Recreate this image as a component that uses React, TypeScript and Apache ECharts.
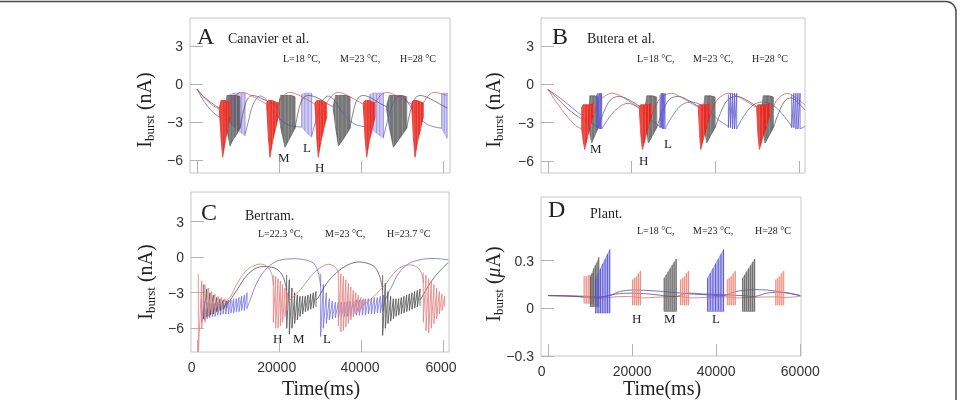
import React, { useEffect, useRef } from "react";
import * as echarts from "echarts";

type Pt = [number, number];
// one spike sample: time (ms), spike top, trough
type Sp = [number, number, number];

// ---------- A: Canavier et al. (nA) ----------
const aRedSlow: Pt[][] = [
  [[0, -0.4], [1500, -1.0], [3500, -1.6], [5450, -2.0]],
  [[8050, -1.5], [9500, -0.85], [10900, -0.65], [13500, -0.95], [16990, -1.6]],
  [[19840, -1.5], [21300, -0.85], [22700, -0.65], [25300, -0.95], [28780, -1.6]],
  [[31630, -1.5], [33100, -0.85], [34500, -0.65], [37000, -0.95], [40570, -1.6]],
  [[43410, -1.5], [44900, -0.85], [46300, -0.65], [48800, -0.95], [52360, -1.6]],
  [[55200, -1.5], [56600, -0.85], [58000, -0.65], [61000, -0.9]],
];
const aRedBursts: Sp[][] = [
  [[5450, -1.9, -2.1], [5850, -1.3, -4.2], [6260, -1.3, -5.8], [6860, -1.3, -4.6], [7460, -1.4, -3.6], [8050, -1.5, -2.6]],
  [[16990, -1.5, -1.7], [17400, -1.3, -4.2], [17800, -1.3, -5.8], [18400, -1.3, -4.6], [19100, -1.4, -3.6], [19840, -1.5, -2.6]],
  [[28780, -1.5, -1.7], [29190, -1.3, -4.2], [29590, -1.3, -5.8], [30190, -1.3, -4.6], [30900, -1.4, -3.6], [31630, -1.5, -2.6]],
  [[40570, -1.5, -1.7], [40980, -1.3, -4.2], [41380, -1.3, -5.8], [41980, -1.3, -4.6], [42700, -1.4, -3.6], [43410, -1.5, -2.6]],
  [[52360, -1.5, -1.7], [52770, -1.3, -4.2], [53170, -1.3, -5.8], [53770, -1.3, -4.6], [54500, -1.4, -3.6], [55200, -1.5, -2.6]],
];
const aBlackSlow: Pt[][] = [
  [[0, -0.4], [2000, -1.1], [4500, -1.7], [6830, -2.2]],
  [[10490, -3.5], [11300, -2.2], [12300, -1.2], [13500, -0.9], [15500, -1.1], [18000, -1.5], [19840, -1.8]],
  [[23900, -3.5], [24700, -2.2], [25700, -1.2], [27000, -0.9], [29500, -1.1], [31500, -1.5], [33250, -1.8]],
  [[37320, -3.5], [38100, -2.2], [39100, -1.2], [40400, -0.9], [42500, -1.1], [44500, -1.5], [46260, -1.8]],
  [[51140, -3.5], [52000, -2.2], [53000, -1.2], [54300, -0.9], [56500, -1.1], [58800, -1.5], [61000, -1.9]],
];
const aBlackBursts: Sp[][] = [
  [[6830, -2.1, -2.4], [7300, -0.9, -3.6], [8050, -0.9, -4.9], [8800, -0.9, -4.4], [9650, -0.9, -4.0], [10490, -1.0, -3.5]],
  [[19840, -1.7, -2.0], [20400, -0.9, -3.4], [21460, -0.9, -5.0], [22300, -0.9, -4.5], [23100, -0.9, -4.0], [23900, -1.0, -3.5]],
  [[33250, -1.7, -2.0], [33800, -0.9, -3.4], [34470, -0.9, -4.9], [35400, -0.9, -4.5], [36400, -0.9, -4.0], [37320, -1.0, -3.5]],
  [[46260, -1.7, -2.0], [46900, -0.9, -3.4], [47890, -0.9, -5.0], [49000, -0.9, -4.5], [50100, -0.9, -4.0], [51140, -1.0, -3.5]],
];
const aBlueSlow: Pt[][] = [
  [[0, -0.4], [2000, -1.5], [4500, -2.4], [8050, -3.0]],
  [[11710, -4.0], [12500, -3.0], [13700, -1.6], [15200, -0.95], [16800, -1.2], [19000, -2.3], [22000, -3.2], [25530, -3.4]],
  [[27970, -4.1], [28900, -3.0], [30200, -1.6], [31700, -0.95], [33300, -1.2], [35600, -2.3], [38600, -3.2], [42190, -3.4]],
  [[45450, -4.2], [46400, -3.0], [47700, -1.6], [49200, -0.95], [50800, -1.2], [53200, -2.3], [56200, -3.2], [59670, -3.5]],
];
const aBlueBursts: Sp[][] = [
  [[8050, -0.8, -3.1], [9000, -0.7, -3.4], [10000, -0.7, -3.7], [10900, -0.7, -3.9], [11710, -0.7, -4.1]],
  [[25530, -0.8, -3.4], [26300, -0.7, -3.7], [27100, -0.7, -4.0], [27970, -0.7, -4.2]],
  [[42190, -0.8, -3.4], [43000, -0.7, -3.7], [43800, -0.7, -3.9], [44600, -0.7, -4.1], [45450, -0.7, -4.3]],
  [[59670, -0.8, -3.5], [60300, -0.7, -3.9], [61000, -0.7, -4.3]],
];

// ---------- B: Butera et al. (nA) ----------
const bRedSlow: Pt[][] = [
  [[0, -0.4], [2000, -1.4], [4500, -2.5], [6500, -3.2], [8050, -3.5]],
  [[10840, -2.4], [12600, -1.2], [15200, -0.7], [17800, -1.0], [20200, -1.5], [21840, -1.8]],
  [[24790, -2.4], [26600, -1.2], [29200, -0.7], [31800, -1.0], [34300, -1.5], [35950, -1.8]],
  [[38730, -2.4], [40500, -1.2], [43100, -0.7], [45700, -1.0], [48200, -1.5], [49890, -1.8]],
  [[53080, -2.4], [54800, -1.2], [57100, -0.7], [59000, -1.0], [61400, -1.6]],
];
const bRedBursts: Sp[][] = [
  [[8050, -1.8, -3.5], [8400, -1.6, -4.4], [8770, -1.6, -5.1], [9400, -1.6, -4.2], [10100, -1.6, -3.3], [10840, -1.5, -2.4]],
  [[21840, -1.7, -2.0], [22200, -1.6, -4.0], [22560, -1.6, -5.1], [23300, -1.6, -4.2], [24000, -1.6, -3.3], [24790, -1.5, -2.4]],
  [[35950, -1.7, -2.0], [36250, -1.6, -4.0], [36500, -1.6, -5.1], [37200, -1.6, -4.2], [38000, -1.6, -3.3], [38730, -1.5, -2.4]],
  [[49890, -1.7, -2.0], [50200, -1.6, -4.0], [50530, -1.6, -5.1], [51300, -1.6, -4.2], [52200, -1.6, -3.3], [53080, -1.5, -2.4]],
];
const bBlackSlow: Pt[][] = [
  [[0, -0.4], [2500, -1.2], [5000, -2.0], [7500, -2.6], [9640, -3.0]],
  [[12030, -3.4], [13300, -2.2], [15000, -1.2], [17200, -0.95], [19800, -1.3], [23190, -2.0]],
  [[25980, -3.4], [27300, -2.2], [29000, -1.2], [31200, -0.95], [33800, -1.3], [37140, -2.0]],
  [[39930, -3.4], [41300, -2.2], [43000, -1.2], [45200, -0.95], [47800, -1.3], [51090, -2.0]],
  [[53880, -3.4], [55200, -2.2], [56900, -1.2], [58500, -1.1], [61400, -2.0]],
];
const bBlackBursts: Sp[][] = [
  [[9640, -2.9, -3.1], [10000, -0.9, -3.8], [10440, -0.9, -4.6], [11200, -0.9, -4.0], [12030, -1.0, -3.4]],
  [[23190, -1.9, -2.2], [23600, -0.9, -3.7], [24000, -0.9, -4.6], [25000, -0.9, -4.0], [25980, -1.0, -3.4]],
  [[37140, -1.9, -2.2], [37500, -0.9, -3.7], [37940, -0.9, -4.6], [38900, -0.9, -4.0], [39930, -1.0, -3.4]],
  [[51090, -1.9, -2.2], [51450, -0.9, -3.7], [51890, -0.9, -4.6], [52900, -0.9, -4.0], [53880, -1.0, -3.4]],
];
const bBlueSlow: Pt[][] = [
  [[0, -0.4], [3000, -1.1], [6000, -1.9], [9000, -2.7], [11640, -3.3]],
  [[12830, -3.5], [14200, -2.8], [16200, -2.0], [18800, -1.5], [21500, -1.8], [24300, -2.7], [26780, -3.3]],
  [[27970, -3.5], [29500, -2.6], [32000, -1.6], [34800, -1.4], [37800, -1.9], [40800, -2.8], [43120, -3.3]],
  [[45110, -3.5], [46600, -2.6], [49100, -1.6], [51800, -1.4], [54800, -1.9], [58260, -3.3]],
  [[60250, -3.5], [61400, -3.3]],
];
const bBlueBursts: Sp[][] = [
  [[11640, -0.8, -3.4], [11940, -0.7, -3.4], [12240, -0.7, -3.5], [12530, -0.7, -3.5], [12830, -0.7, -3.5]],
  [[26780, -0.8, -3.4], [27080, -0.7, -3.4], [27380, -0.7, -3.5], [27670, -0.7, -3.5], [27970, -0.7, -3.5]],
  [[43120, -0.8, -3.4], [43620, -0.7, -3.4], [44120, -0.7, -3.5], [44610, -0.7, -3.5], [45110, -0.7, -3.5]],
  [[58260, -0.8, -3.4], [58760, -0.7, -3.4], [59260, -0.7, -3.5], [59750, -0.7, -3.5], [60250, -0.7, -3.5]],
];

// ---------- C: Bertram (nA) ----------
const cRedSlow: Pt[][] = [
  [[6830, -3.7], [8050, -3.4], [9670, -2.3], [12110, -1.1], [14960, -0.6], [16990, -0.75], [18210, -1.4], [18620, -2.4]],
  [[22030, -3.8], [22680, -3.6], [25120, -2.8], [27560, -1.7], [30000, -0.9], [32000, -0.6], [33600, -0.8], [34470, -1.3]],
  [[40570, -4.0], [42190, -3.6], [45450, -2.5], [48700, -1.1], [51140, -0.67], [53580, -0.8], [54800, -1.4], [55200, -2.2]],
];
const cRedBursts: Sp[][] = [
  [[325, -1.4, -8.0], [1140, -2.0, -6.0], [1950, -2.3, -5.5], [2760, -2.6, -5.0], [3580, -2.9, -4.8], [4390, -3.1, -4.6], [5200, -3.3, -4.4], [6020, -3.4, -4.2], [6830, -3.5, -4.0]],
  [[18620, -1.5, -5.5], [19190, -1.6, -6.0], [19760, -1.8, -6.0], [20330, -2.0, -5.8], [20890, -2.3, -5.5], [21460, -2.6, -5.0], [22030, -3.0, -4.5]],
  [[34470, -1.2, -5.8], [35080, -1.4, -6.3], [35690, -1.6, -6.2], [36300, -1.9, -5.9], [36910, -2.2, -5.6], [37520, -2.5, -5.3], [38130, -2.8, -5.0], [38740, -3.0, -4.8], [39350, -3.2, -4.6], [39960, -3.4, -4.4], [40570, -3.5, -4.2]],
  [[55200, -1.3, -5.5], [55850, -1.5, -6.2], [56500, -1.8, -6.4], [57150, -2.0, -6.0], [57800, -2.3, -5.6], [58450, -2.6, -5.2], [59100, -2.9, -4.8], [59760, -3.1, -4.5], [60410, -3.3, -4.2]],
];
const cBlackSlow: Pt[][] = [
  [[7240, -4.0], [8050, -3.65], [9670, -2.8], [12110, -1.55], [14550, -0.9], [16990, -0.8], [19430, -1.0], [21060, -1.7], [21870, -2.8]],
  [[29020, -3.6], [29590, -3.4], [31630, -2.2], [34060, -1.3], [36500, -0.7], [38940, -0.42], [41380, -0.5], [43410, -0.85], [44630, -1.7], [45280, -2.8]],
  [[54390, -3.6], [54800, -3.4], [56830, -2.2], [58860, -1.3], [61300, -0.45]],
];
const cBlackBursts: Sp[][] = [
  [[1540, -2.3, -5.2], [2360, -2.7, -5.0], [3170, -3.0, -4.9], [3980, -3.2, -4.8], [4800, -3.4, -4.6], [5610, -3.5, -4.5], [6420, -3.6, -4.4], [7240, -3.7, -4.3]],
  [[21870, -1.5, -6.0], [22520, -1.9, -6.5], [23170, -2.6, -6.0], [23820, -3.0, -5.6], [24470, -3.2, -5.3], [25120, -3.3, -5.0], [25770, -3.3, -4.8], [26420, -3.3, -4.6], [27070, -3.2, -4.5], [27720, -3.1, -4.4], [28370, -3.0, -4.3], [29020, -2.9, -4.2]],
  [[45280, -1.5, -6.6], [45930, -2.2, -6.0], [46580, -2.9, -5.6], [47240, -3.3, -5.4], [47890, -3.5, -5.2], [48540, -3.5, -5.0], [49190, -3.5, -4.9], [49840, -3.4, -4.8], [50490, -3.3, -4.7], [51140, -3.2, -4.6], [51790, -3.1, -4.5], [52440, -3.0, -4.4], [53090, -2.9, -4.3], [53740, -2.8, -4.2], [54390, -2.7, -4.1]],
];
const cBlueSlow: Pt[][] = [
  [[12200, -4.3], [12930, -3.65], [14550, -2.2], [16580, -1.1], [19430, -0.34], [22680, -0.14], [25930, -0.2], [28370, -0.5], [29590, -1.3], [30160, -2.5]],
  [[45450, -4.5], [45850, -3.65], [47480, -2.5], [49110, -1.4], [51540, -0.56], [54390, -0.22], [57640, -0.11], [61300, -0.22]],
];
const cBlueBursts: Sp[][] = [
  [[1140, -3.5, -5.5], [1790, -3.7, -5.3], [2440, -3.8, -5.2], [3090, -3.9, -5.1], [3740, -3.9, -5.0], [4390, -3.9, -5.0], [5040, -3.8, -4.9], [5690, -3.8, -4.9], [6340, -3.7, -4.8], [6990, -3.7, -4.8], [7640, -3.6, -4.8], [8290, -3.6, -4.7], [8940, -3.5, -4.7], [9590, -3.5, -4.6], [10240, -3.4, -4.6], [10890, -3.3, -4.5], [11540, -3.2, -4.5], [12200, -3.0, -4.4]],
  [[30160, -1.4, -6.7], [30810, -2.3, -6.0], [31540, -3.0, -5.6], [32280, -3.5, -5.3], [33010, -3.7, -5.2], [33740, -3.8, -5.1], [34470, -3.8, -5.1], [35200, -3.8, -5.0], [35930, -3.8, -5.0], [36670, -3.7, -5.0], [37400, -3.7, -5.0], [38130, -3.7, -5.0], [38860, -3.6, -4.9], [39590, -3.6, -4.9], [40330, -3.6, -4.9], [41060, -3.5, -4.9], [41790, -3.5, -4.8], [42520, -3.5, -4.8], [43250, -3.4, -4.8], [43980, -3.4, -4.7], [44710, -3.3, -4.7], [45450, -3.2, -4.6]],
];

// ---------- D: Plant (uA) ----------
const dRedSlow: Pt[][] = [
  [[0, 0.08], [5000, 0.078], [8420, 0.07], [11200, 0.06], [15000, 0.07], [19930, 0.075], [22310, 0.065], [26000, 0.07], [31440, 0.075], [33820, 0.065], [38000, 0.07], [42560, 0.072], [44940, 0.065], [50000, 0.07], [54070, 0.072], [56450, 0.068], [60000, 0.075]],
];
const dRedBursts: Sp[][] = [
  [[8580, 0.2, 0.03], [9130, 0.2, 0.03], [9690, 0.21, 0.03], [10240, 0.21, 0.03], [10800, 0.22, 0.03]],
  [[20090, 0.18, 0.02], [20560, 0.19, 0.02], [21040, 0.2, 0.02], [21520, 0.22, 0.02], [21990, 0.235, 0.02]],
  [[31520, 0.18, 0.02], [32000, 0.19, 0.02], [32470, 0.2, 0.02], [32950, 0.22, 0.02], [33430, 0.235, 0.02]],
  [[42640, 0.18, 0.02], [43110, 0.19, 0.02], [43590, 0.2, 0.02], [44070, 0.22, 0.02], [44540, 0.235, 0.02]],
  [[54150, 0.18, 0.02], [54630, 0.19, 0.02], [55110, 0.2, 0.02], [55590, 0.22, 0.02], [56060, 0.235, 0.02]],
];
const dBlackSlow: Pt[][] = [
  [[0, 0.08], [5000, 0.078], [10000, 0.075], [12390, 0.07], [16000, 0.09], [20000, 0.095], [24000, 0.09], [27470, 0.08], [30650, 0.075], [33000, 0.095], [37000, 0.09], [42000, 0.085], [46130, 0.08], [49310, 0.075], [52000, 0.095], [56000, 0.1], [60000, 0.08]],
];
const dBlackBursts: Sp[][] = [
  [[10080, 0.2, 0.01], [10480, 0.22, 0.01], [10880, 0.25, 0.01], [11270, 0.27, 0.01], [11670, 0.29, 0.01], [12070, 0.32, 0.01]],
  [[27630, 0.19, -0.02], [28110, 0.21, -0.02], [28580, 0.23, -0.02], [29060, 0.25, -0.02], [29540, 0.27, -0.02], [30010, 0.29, -0.02], [30490, 0.31, -0.02]],
  [[46290, 0.19, -0.02], [46770, 0.21, -0.02], [47240, 0.23, -0.02], [47720, 0.25, -0.02], [48200, 0.27, -0.02], [48670, 0.29, -0.02], [49150, 0.31, -0.02]],
];
const dBlueSlow: Pt[][] = [
  [[0, 0.08], [6000, 0.075], [11200, 0.07], [14770, 0.08], [17000, 0.105], [20500, 0.115], [25000, 0.11], [30000, 0.1], [34000, 0.09], [37790, 0.085], [41760, 0.08], [44000, 0.1], [47000, 0.115], [52000, 0.115], [56000, 0.1], [60000, 0.08]],
];
const dBlueBursts: Sp[][] = [
  [[11350, 0.19, -0.03], [11910, 0.22, -0.03], [12470, 0.25, -0.03], [13020, 0.28, -0.03], [13580, 0.31, -0.03], [14130, 0.34, -0.03], [14690, 0.37, -0.03]],
  [[37950, 0.19, -0.02], [38590, 0.22, -0.02], [39220, 0.25, -0.02], [39860, 0.28, -0.02], [40490, 0.31, -0.02], [41130, 0.34, -0.02], [41760, 0.37, -0.02]],
];

// tick values and labels
const timeTicks = [0, 20000, 40000, 60000];
const nATicks = [-6, -3, 0, 3];
const uATicks = [-0.3, 0, 0.3];
const cTimeLabels = ["0", "20000", "40000", "6000"];
const dTimeLabels = ["0", "20000", "40000", "60000"];

const SERIF = '"Liberation Serif", "Times New Roman", serif';
const SANS = '"Liberation Sans", Arial, sans-serif';

interface Look {
  line: string;
  lineOpacity: number;
  fill?: string;
  fillOpacity?: number;
  stripe?: string;
  stripeOpacity?: number;
  zig?: string;
  zigOpacity?: number;
}

function slowSeries(ax: number, segs: Pt[][], look: Look, z: number) {
  return {
    type: "custom",
    xAxisIndex: ax,
    yAxisIndex: ax,
    silent: true,
    z,
    data: segs.map((s, i) => [s[0][0], s[0][1], i]),
    renderItem: (_p: any, api: any) => {
      const seg = segs[api.value(2)];
      return {
        type: "polyline",
        shape: { points: seg.map((p) => api.coord(p)), smooth: 0.35 },
        style: { stroke: look.line, lineWidth: 0.9, fill: "none", opacity: look.lineOpacity },
      };
    },
  };
}

function burstSeries(ax: number, bursts: Sp[][], look: Look, z: number) {
  return {
    type: "custom",
    xAxisIndex: ax,
    yAxisIndex: ax,
    silent: true,
    z,
    data: bursts.map((b, i) => [b[0][0], b[0][1], i]),
    renderItem: (_p: any, api: any) => {
      const b = bursts[api.value(2)];
      const tops = b.map((s) => api.coord([s[0], s[1]]));
      const bots = b.map((s) => api.coord([s[0], s[2]]));
      const children: any[] = [];
      if (look.fill) {
        children.push({
          type: "polygon",
          shape: { points: [...tops, ...bots.slice().reverse()] },
          style: { fill: look.fill, opacity: look.fillOpacity ?? 1, stroke: look.fill, lineWidth: 0.8 },
        });
      }
      if (look.stripe) {
        tops.forEach((tp, i) => {
          children.push({
            type: "line",
            shape: { x1: tp[0], y1: tp[1], x2: bots[i][0], y2: bots[i][1] },
            style: { stroke: look.stripe, lineWidth: 1, opacity: look.stripeOpacity ?? 1 },
          });
        });
      }
      if (look.zig) {
        const pts: number[][] = [];
        tops.forEach((tp, i) => {
          pts.push(tp);
          pts.push(bots[i]);
        });
        children.push({
          type: "polyline",
          shape: { points: pts },
          style: { stroke: look.zig, lineWidth: 1, fill: "none", opacity: look.zigOpacity ?? 1 },
        });
      }
      return { type: "group", children };
    },
  };
}

const minus = (s: string) => s.replace("-", "\u2212");

function xAxisFor(grid: number, min: number, max: number, labels?: string[], labelAt?: number[]) {
  return {
    type: "value",
    gridIndex: grid,
    min,
    max,
    axisLine: { show: false, onZero: false },
    splitLine: { show: false },
    axisTick: {
      show: true,
      inside: true,
      length: 12,
      customValues: timeTicks,
      lineStyle: { color: "#b4b4b4", width: 1 },
    },
    axisLabel: labels
      ? {
          show: true,
          customValues: labelAt,
          margin: 8,
          fontFamily: SANS,
          fontSize: 14,
          color: "#333",
          formatter: (v: number) => {
            let k = 0;
            (labelAt as number[]).forEach((p, i) => {
              if (Math.abs(p - v) < Math.abs((labelAt as number[])[k] - v)) k = i;
            });
            return labels[k];
          },
        }
      : { show: false },
  };
}

function yAxisFor(grid: number, min: number, max: number, ticks: number[]) {
  return {
    type: "value",
    gridIndex: grid,
    min,
    max,
    axisLine: { show: false, onZero: false },
    splitLine: { show: false },
    axisTick: {
      show: true,
      inside: true,
      length: 13,
      customValues: ticks,
      lineStyle: { color: "#b4b4b4", width: 1 },
    },
    axisLabel: {
      show: true,
      customValues: ticks,
      margin: 7,
      fontFamily: SANS,
      fontSize: 14,
      color: "#333",
      formatter: (v: number) => (Math.abs(v) < 1e-9 ? "0" : minus(String(Math.round(v * 10) / 10))),
    },
  };
}

const red: Look = { line: "#d33b36", lineOpacity: 0.7, fill: "#e8221b", fillOpacity: 0.92, stripe: "#f47a70", stripeOpacity: 0.55 };
const black: Look = { line: "#3a3a3a", lineOpacity: 0.7, fill: "#3c3c3c", fillOpacity: 0.7, stripe: "#a8a8a8", stripeOpacity: 0.55 };
const blue: Look = { line: "#4f4fc0", lineOpacity: 0.75, fill: "#8a80e4", fillOpacity: 0.42, stripe: "#6a5fd6", stripeOpacity: 0.45 };
const blueSpiky: Look = { line: "#4f4fc0", lineOpacity: 0.75, zig: "#5a55d0", zigOpacity: 0.8 };

const cRed: Look = { line: "#d8706e", lineOpacity: 0.85, zig: "#e58686", zigOpacity: 0.85 };
const cBlack: Look = { line: "#4a4a4a", lineOpacity: 0.85, zig: "#4d4d4d", zigOpacity: 0.8 };
const cBlue: Look = { line: "#6464d8", lineOpacity: 0.85, zig: "#6d6ae0", zigOpacity: 0.75 };

const dRed: Look = { line: "#e06a60", lineOpacity: 0.85, fill: "#f4a090", fillOpacity: 0.45, stripe: "#ec7d70", stripeOpacity: 0.8 };
const dBlack: Look = { line: "#555", lineOpacity: 0.85, fill: "#6e6e6e", fillOpacity: 0.5, stripe: "#555", stripeOpacity: 0.8 };
const dBlue: Look = { line: "#4646c8", lineOpacity: 0.85, fill: "#6c6ce0", fillOpacity: 0.5, stripe: "#4a46d0", stripeOpacity: 0.8 };

function txt(x: number, y: number, text: string, size: number, extra: any = {}) {
  return {
    type: "text",
    x,
    y,
    silent: true,
    style: {
      text,
      fontFamily: SERIF,
      fontSize: size,
      fill: "#222",
      align: "left",
      verticalAlign: "middle",
      ...extra,
    },
  };
}

function yName(x: number, y: number, unit: "nA" | "uA") {
  const text = unit === "nA" ? "{a|I}{b|burst}{a| (nA)}" : "{a|I}{b|burst}{a| (}{m|\u03bc}{a|A)}";
  return {
    type: "text",
    x,
    y,
    rotation: Math.PI / 2,
    silent: true,
    style: {
      text,
      align: "center",
      verticalAlign: "middle",
      fill: "#222",
      rich: {
        a: { fontFamily: SERIF, fontSize: 20, fill: "#222" },
        b: { fontFamily: SERIF, fontSize: 13, fill: "#222", padding: [10, 0, 0, 0] },
        m: { fontFamily: SERIF, fontSize: 20, fontStyle: "italic", fill: "#222" },
      },
    },
  };
}

export default function App() {
  const ref = useRef<HTMLDivElement>(null);
  useEffect(() => {
    if (!ref.current) return;
    const chart = echarts.init(ref.current, undefined, { renderer: "svg" });
    const frame = { show: true, borderColor: "#c6c6c6", borderWidth: 1, backgroundColor: "transparent" };
    chart.setOption({
      animation: false,
      grid: [
        { left: 190, top: 18, width: 260, height: 155, ...frame },
        { left: 541, top: 18, width: 264, height: 155, ...frame },
        { left: 191, top: 192, width: 258, height: 160, ...frame },
        { left: 541, top: 197, width: 260, height: 159, ...frame },
      ],
      xAxis: [
        xAxisFor(0, -1707, 61707),
        xAxisFor(1, -1673, 61434),
        xAxisFor(2, -1463, 61463, cTimeLabels, [-1290, 19440, 39760, 59510]),
        xAxisFor(3, -1667, 60170, dTimeLabels, [-1500, 20000, 40000, 60000]),
      ],
      yAxis: [
        yAxisFor(0, -7.05, 5.25, nATicks),
        yAxisFor(1, -6.95, 5.2, nATicks),
        yAxisFor(2, -8.0, 5.5, nATicks),
        yAxisFor(3, -0.3, 0.7, uATicks),
      ],
      series: [
        burstSeries(0, aBlueBursts, blue, 2),
        burstSeries(0, aBlackBursts, black, 3),
        slowSeries(0, aBlueSlow, blue, 4),
        slowSeries(0, aBlackSlow, black, 4),
        slowSeries(0, aRedSlow, red, 4),
        burstSeries(0, aRedBursts, red, 5),

        burstSeries(1, bBlackBursts, black, 3),
        slowSeries(1, bBlueSlow, blueSpiky, 4),
        slowSeries(1, bBlackSlow, black, 4),
        slowSeries(1, bRedSlow, red, 4),
        burstSeries(1, bBlueBursts, blueSpiky, 4),
        burstSeries(1, bRedBursts, red, 5),

        burstSeries(2, cBlueBursts, cBlue, 3),
        slowSeries(2, cBlueSlow, cBlue, 3),
        burstSeries(2, cBlackBursts, cBlack, 4),
        slowSeries(2, cBlackSlow, cBlack, 4),
        burstSeries(2, cRedBursts, cRed, 5),
        slowSeries(2, cRedSlow, cRed, 5),

        slowSeries(3, dRedSlow, dRed, 3),
        slowSeries(3, dBlackSlow, dBlack, 3),
        slowSeries(3, dBlueSlow, dBlue, 3),
        burstSeries(3, dRedBursts, dRed, 4),
        burstSeries(3, dBlackBursts, dBlack, 4),
        burstSeries(3, dBlueBursts, dBlue, 5),
      ],
      graphic: [
        {
          type: "rect",
          silent: true,
          shape: { x: -20, y: 1.5, width: 976, height: 430, r: 10 },
          style: { fill: "none", stroke: "#4a4a4a", lineWidth: 1.5 },
        },
        txt(197, 36, "A", 24),
        txt(228, 38, "Canavier et al.", 14),
        txt(283, 58, "L=18 \u00b0C,", 10),
        txt(340, 58, "M=23 \u00b0C,", 10),
        txt(400, 58, "H=28 \u00b0C", 10),
        txt(278, 157, "M", 13),
        txt(303, 147, "L", 13),
        txt(315, 167, "H", 13),

        txt(552, 36, "B", 24),
        txt(587, 38, "Butera et al.", 14),
        txt(637, 58, "L=18 \u00b0C,", 10),
        txt(693, 58, "M=23 \u00b0C,", 10),
        txt(752, 58, "H=28 \u00b0C", 10),
        txt(590, 148, "M", 13),
        txt(639, 160, "H", 13),
        txt(664, 143, "L", 13),

        txt(201, 212, "C", 24),
        txt(245, 215, "Bertram.", 14),
        txt(258, 233, "L=22.3 \u00b0C,", 10),
        txt(325, 233, "M=23 \u00b0C,", 10),
        txt(387, 233, "H=23.7 \u00b0C", 10),
        txt(273, 338, "H", 13),
        txt(293, 338, "M", 13),
        txt(323, 338, "L", 13),

        txt(548, 209, "D", 24),
        txt(590, 213, "Plant.", 14),
        txt(637, 230, "L=18 \u00b0C,", 10),
        txt(693, 230, "M=23 \u00b0C,", 10),
        txt(755, 230, "H=28 \u00b0C", 10),
        txt(632, 318, "H", 13),
        txt(664, 318, "M", 13),
        txt(712, 318, "L", 13),

        yName(144, 110, "nA"),
        yName(493, 110, "nA"),
        yName(145, 282, "nA"),
        yName(493, 284, "uA"),
        txt(321, 388, "Time(ms)", 20, { align: "center" }),
        txt(662, 388, "Time(ms)", 20, { align: "center" }),
      ],
    });
    return () => chart.dispose();
  }, []);
  return <div ref={ref} style={{ position: "fixed", left: 0, top: 0, width: 961, height: 400 }} />;
}
